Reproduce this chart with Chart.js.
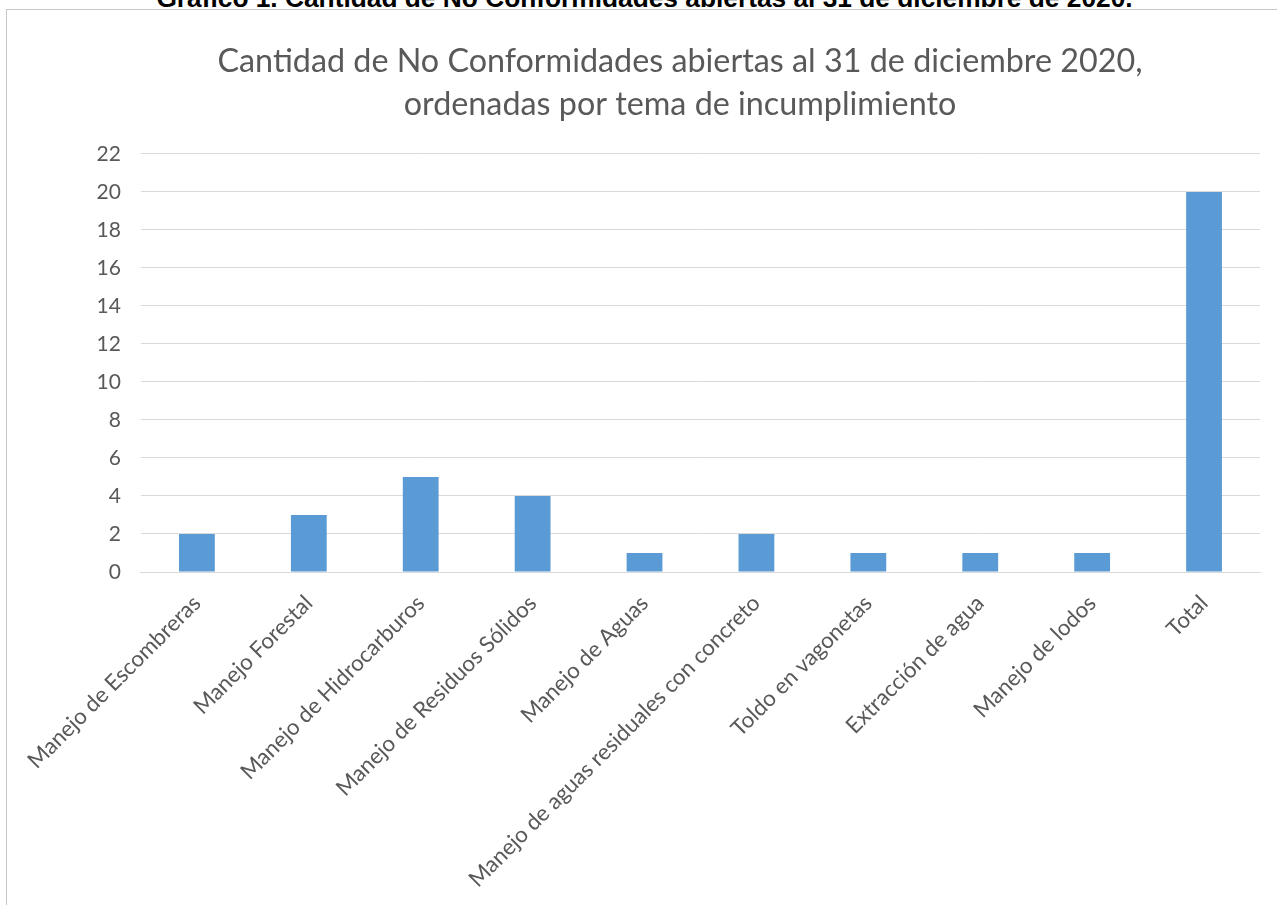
<!DOCTYPE html>
<html>
<head>
<meta charset="utf-8">
<script src="https://cdn.jsdelivr.net/npm/chart.js@4"></script>
<style>
  html, body { margin: 0; padding: 0; background: #fff; overflow: hidden; }
  body { width: 1277px; height: 905px; position: relative; }
  .caption {
    position: absolute; left: 6px; width: 1277px; top: -17px; line-height: 26px;
    text-align: center; font: bold 26.3px "Liberation Sans", Arial, sans-serif; color: #000;
    white-space: nowrap;
  }
  .chart-box {
    position: absolute; left: 6px; top: 9px; width: 1280px; height: 910px;
    border-top: 1px solid #c8c8c8; border-left: 1px solid #c8c8c8; background: #fff;
  }
  canvas { position: absolute; left: 0; top: 0; }
</style>
</head>
<body>
<div class="caption">Gráfico 1. Cantidad de No Conformidades abiertas al 31 de diciembre de 2020.</div>
<div class="chart-box">
  <canvas id="bar-chart" width="1270" height="895"></canvas>
</div>
<script>
const categories = [
    'Manejo de Escombreras',
    'Manejo Forestal',
    'Manejo de Hidrocarburos',
    'Manejo de Residuos Sólidos',
    'Manejo de Aguas',
    'Manejo de aguas residuales con concreto',
    'Toldo en vagonetas',
    'Extracción de agua',
    'Manejo de lodos',
    'Total'
]
const counts = [2, 3, 5, 4, 1, 2, 1, 1, 1, 20]
const titleLines = [
    'Cantidad de No Conformidades abiertas al 31 de diciembre 2020,',
    'ordenadas por tema de incumplimiento'
]

const fontFamily = 'Lato, "Open Sans", sans-serif'
const textGrey = '#595959'

// the original title sits a bit right of the canvas centre
const shiftTitle = {
    id: 'shiftTitle',
    afterLayout(chart) {
        const t = chart.titleBlock
        if (!t) return
        const d = 673 - (t.left + t.right) / 2
        t.left += d
        t.right += d
    }
}

const ctx = document.getElementById('bar-chart')
window.myChart = new Chart(ctx, {
    type: 'bar',
    data: {
        labels: categories,
        datasets: [{
            data: counts,
            backgroundColor: '#5b9bd5',
            borderWidth: 0,
            barPercentage: 1,
            categoryPercentage: 0.32,
        }]
    },
    options: {
        responsive: false,
        animation: false,
        layout: { padding: { top: 10, right: 17, left: 0, bottom: 0 } },
        plugins: {
            legend: { display: false },
            tooltip: { enabled: false },
            title: {
                display: true,
                text: titleLines,
                color: textGrey,
                font: { family: fontFamily, size: 32.3, weight: 'normal', lineHeight: 1.33 },
                padding: { top: 20, bottom: 28 }
            }
        },
        scales: {
            x: {
                grid: { display: false, drawTicks: false },
                border: { color: '#d9d9d9', width: 1 },
                ticks: {
                    color: textGrey,
                    font: { family: fontFamily, size: 22.3 },
                    minRotation: 45,
                    maxRotation: 45,
                    padding: 18,
                    autoSkip: false
                },
                afterFit: (scale) => { scale.height = 333 }
            },
            y: {
                min: 0,
                max: 22,
                grid: { color: '#d9d9d9', drawTicks: false },
                border: { display: false },
                ticks: {
                    stepSize: 2,
                    color: textGrey,
                    font: { family: fontFamily, size: 21 },
                    padding: 20
                },
                afterFit: (scale) => { scale.width = 133 }
            }
        }
    },
    plugins: [shiftTitle]
})
</script>
</body>
</html>
